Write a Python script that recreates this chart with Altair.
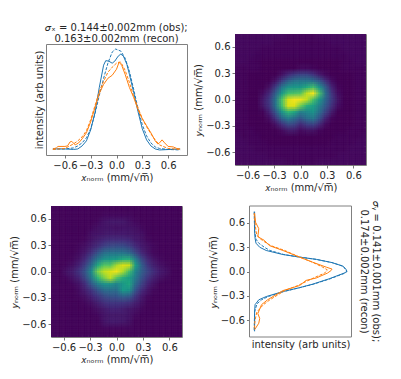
import altair as alt
import pandas as pd

# heat-map intensities, 21 x 21 cells, top row first
recon_rows = [
 [3,3,3,3,3,3,3,3,2,2,2,2,2,3,3,3,3,3,3,3,3],
 [3,3,3,3,3,3,2,2,2,2,2,2,2,2,2,3,3,3,3,3,3],
 [3,3,3,3,2,2,2,2,2,2,2,2,2,2,2,2,2,3,3,3,3],
 [3,3,3,2,2,2,2,2,2,2,2,2,2,2,2,2,2,2,3,3,3],
 [3,3,2,2,1,1,1,1,1,1,1,1,1,1,1,1,1,2,2,3,3],
 [2,2,2,2,1,1,1,1,1,1,3,3,2,1,1,1,1,2,2,2,2],
 [2,2,1,1,1,1,1,5,12,17,20,20,15,8,3,1,1,1,1,2,2],
 [2,2,1,1,1,1,6,18,30,37,38,38,36,27,14,4,1,1,1,2,2],
 [2,2,1,1,1,5,18,38,50,52,52,60,68,50,28,10,2,1,1,2,2],
 [2,2,1,1,4,12,30,52,68,70,72,88,96,70,35,15,4,1,1,2,2],
 [2,2,1,1,8,17,38,70,92,96,95,88,70,52,32,17,6,1,1,2,2],
 [2,2,1,1,7,16,38,68,92,92,76,62,56,42,27,14,4,1,1,2,2],
 [2,2,1,1,2,10,27,50,64,58,42,46,50,36,20,8,1,1,1,2,2],
 [2,2,1,1,1,4,15,32,42,36,27,36,40,26,10,2,1,1,1,2,2],
 [2,2,1,1,1,1,5,14,22,20,12,18,20,12,3,1,1,1,1,2,2],
 [2,2,2,1,1,1,1,3,7,7,3,5,5,2,1,1,1,1,2,2,2],
 [3,2,2,2,1,1,1,1,1,1,1,1,1,1,1,1,2,2,2,2,3],
 [3,3,2,2,2,1,1,1,1,1,1,1,1,1,1,2,2,2,2,3,3],
 [3,3,3,2,2,2,2,2,2,2,2,2,2,2,2,2,2,2,3,3,3],
 [3,3,3,3,3,2,2,2,2,2,2,2,2,2,2,2,3,3,3,3,3],
 [3,3,3,3,3,3,3,3,2,2,2,2,2,3,3,3,3,3,3,3,3],
]
obs_rows = [
 [2,2,2,2,2,2,2,2,2,2,2,2,2,2,2,2,2,2,2,2,2],
 [2,2,2,2,2,2,2,2,3,3,3,3,3,2,2,2,2,2,2,2,2],
 [2,2,2,2,2,2,2,3,6,7,7,7,5,3,2,2,2,2,2,2,2],
 [2,2,2,2,2,2,3,5,6,6,5,6,6,5,3,2,2,2,2,2,2],
 [2,2,2,2,2,2,5,6,7,8,8,8,7,6,5,2,2,2,2,2,2],
 [2,2,2,2,2,3,6,9,12,14,14,14,12,8,6,3,2,2,2,2,2],
 [2,2,2,2,3,5,9,14,20,23,24,24,20,13,8,5,3,2,2,2,2],
 [2,2,2,2,4,8,15,26,36,38,38,38,34,22,12,6,3,2,2,2,2],
 [2,2,2,3,6,13,25,40,50,52,54,60,62,42,22,11,6,3,2,2,2],
 [2,2,3,5,10,20,36,60,72,72,85,92,90,55,30,16,9,5,3,2,2],
 [2,2,6,9,16,27,48,78,88,92,95,85,68,45,30,20,13,8,5,2,2],
 [2,2,3,6,11,22,40,64,78,88,72,62,55,40,26,15,9,5,3,2,2],
 [2,2,2,3,6,14,28,42,50,50,44,52,58,34,20,10,5,2,2,2,2],
 [2,2,2,2,4,9,16,26,34,36,36,52,50,26,13,6,3,2,2,2,2],
 [2,2,2,2,3,5,10,16,22,25,26,30,28,16,8,3,2,2,2,2,2],
 [2,2,2,2,2,3,5,9,14,16,16,16,14,9,5,2,2,2,2,2,2],
 [2,2,2,2,2,2,3,5,8,10,10,9,7,5,3,2,2,2,2,2,2],
 [2,2,2,2,2,2,2,3,6,7,7,7,6,3,2,2,2,2,2,2,2],
 [2,2,2,2,2,2,2,2,6,8,8,7,5,2,2,2,2,2,2,2,2],
 [2,2,2,2,2,2,2,2,3,3,3,3,3,2,2,2,2,2,2,2,2],
 [2,2,2,2,2,2,2,2,2,2,2,2,2,2,2,2,2,2,2,2,2],
]
extent = 0.742

# top-left profile
bs_x = [-.74,-.6,-.5,-.45,-.4,-.35,-.3,-.25,-.2,-.15,-.125,-.09,-.05,-.02,.02,.05,.08,.12,.15,.2,.25,.3,.35,.4,.45,.5,.74]
bs_v = [.01,.01,.005,.01,.04,.09,.2,.37,.62,.84,.885,.88,.86,.88,.93,.95,.93,.85,.75,.57,.38,.21,.1,.04,.01,.0,.01]
bd_x = [-.74,-.6,-.5,-.45,-.4,-.35,-.3,-.25,-.2,-.15,-.1,-.05,-.01,.05,.1,.15,.2,.25,.3,.35,.4,.45,.5,.6,.74]
bd_v = [.01,.01,.02,.04,.07,.12,.21,.36,.54,.71,.86,.97,1.0,.98,.91,.78,.6,.41,.25,.14,.07,.03,.015,.005,.0]
os_x = [-.74,-.7,-.68,-.6,-.57,-.54,-.52,-.48,-.44,-.4,-.35,-.3,-.25,-.2,-.15,-.1,-.05,0,.03,.06,.1,.15,.2,.25,.3,.35,.4,.45,.48,.5,.53,.56,.6,.66,.7,.74]
os_v = [.01,.02,.035,.035,.04,.08,.085,.05,.07,.11,.17,.28,.42,.56,.65,.71,.74,.8,.87,.84,.75,.62,.52,.4,.31,.24,.17,.09,.06,.07,.1,.07,.035,.03,.015,.01]
od_x = [-.74,-.6,-.5,-.45,-.4,-.35,-.3,-.25,-.2,-.15,-.1,-.05,0,.03,.05,.1,.15,.2,.25,.3,.35,.4,.45,.5,.6,.74]
od_v = [.005,.015,.06,.09,.13,.19,.3,.44,.58,.68,.77,.82,.86,.87,.87,.79,.67,.53,.42,.31,.23,.16,.1,.05,.015,.005]

# bottom-right profile
rbs_y = [.74,.5,.41,.35,.3,.26,.21,.178,.15,.11,.065,.02,0,-.02,-.09,-.157,-.2,-.248,-.31,-.35,-.41,-.5,-.74]
rbs_v = [.005,.005,.01,.02,.06,.13,.31,.49,.67,.84,.96,.995,1.0,.97,.81,.63,.49,.31,.13,.05,.01,.005,.005]
rbd_y = [.74,.5,.4,.35,.3,.26,.21,.178,.15,.11,.065,.02,0,-.02,-.09,-.157,-.2,-.248,-.31,-.35,-.4,-.5,-.74]
rbd_v = [.0,.005,.02,.05,.11,.17,.32,.49,.67,.84,.96,.99,1.0,.98,.82,.64,.49,.32,.15,.08,.03,.005,.0]
ros_y = [.72,.61,.53,.43,.385,.32,.26,.178,.115,.053,.03,.012,-.02,-.08,-.11,-.174,-.236,-.35,-.41,-.52,-.58,-.64,-.72]
ros_v = [.005,.015,.05,.04,.11,.165,.31,.49,.63,.78,.84,.83,.79,.67,.56,.49,.31,.145,.08,.04,.06,.05,.005]
rod_y = [.72,.6,.5,.45,.39,.32,.26,.178,.115,.053,.02,-.02,-.08,-.13,-.174,-.236,-.35,-.41,-.5,-.6,-.72]
rod_v = [.0,.01,.02,.03,.08,.18,.33,.49,.63,.74,.79,.76,.64,.55,.47,.33,.17,.1,.03,.01,.0]

ticks = [-0.6, -0.3, 0.0, 0.3, 0.6]
BLUE, ORANGE = "#1f77b4", "#ff7f0e"
TXT = "#262626"
FRAME = "#808080"
XT = "𝑥ₙₒᵣₘ (mm/√m̅)"
YT = "𝑦ₙₒᵣₘ (mm/√m̅)"
TFONT = 10
FONT = "DejaVu Sans"
TITLE_Y = ["𝜎ᵧ = 0.141±0.001mm (obs);", "0.174±0.002mm (recon)"]
INSET = 14.5  # bottom-right axes sit centred in a 131 px wide cell

def axis(title, vals=ticks, **kw):
    return alt.Axis(values=vals, title=title, format=".1f", grid=False, domain=False,
                    tickColor="#555555", tickSize=3, tickWidth=0.8,
                    labelColor=TXT, titleColor=TXT, labelFontSize=TFONT, titleFontSize=TFONT,
                    labelFont=FONT, titleFont=FONT, titleFontWeight="normal",
                    labelPadding=2, titlePadding=2, labelOverlap=False, **kw)

def heat(rows):
    step = 2 * extent / len(rows)
    sc = alt.Scale(scheme="viridis", domain=[0, 97])
    layers = []
    # the same cells drawn at small sub-cell shifts and averaged by opacity
    shifts = [(0, 0)] + [(a, b) for a in (-1/3, 0, 1/3) for b in (-1/3, 0, 1/3) if (a, b) != (0, 0)]
    for k, (dx, dy) in enumerate(shifts):
        recs = []
        for r, row in enumerate(rows):
            for c, v in enumerate(row):
                x0 = -extent + (c + dx) * step
                y0 = extent - (r + dy) * step
                recs.append(dict(x=x0, x2=x0 + step * 1.04, y=y0, y2=y0 - step * 1.04, v=v))
        layers.append(alt.Chart(pd.DataFrame(recs)).mark_rect(opacity=1 / (k + 1), clip=True).encode(
            x=alt.X("x:Q", scale=alt.Scale(domain=[-extent, extent], nice=False), axis=axis(XT)),
            x2="x2:Q",
            y=alt.Y("y:Q", scale=alt.Scale(domain=[-extent, extent], nice=False), axis=axis(YT)),
            y2="y2:Q",
            color=alt.Color("v:Q", scale=sc, legend=None),
        ))
    return alt.layer(*layers).properties(width=131, height=131)

def hprof(xs, vs, color, dash):
    kw = dict(strokeDash=[3, 1.5]) if dash else {}
    return alt.Chart(pd.DataFrame(dict(x=xs, v=vs))).mark_line(color=color, strokeWidth=1, **kw).encode(
        x=alt.X("x:Q", scale=alt.Scale(domain=[-0.82, 0.82], nice=False), axis=axis(XT)),
        y=alt.Y("v:Q", scale=alt.Scale(domain=[-0.05, 1.05], nice=False),
                axis=axis("intensity (arb units)", vals=[])),
        order="x:Q",
    )

def vprof(ys, vs, color, dash):
    kw = dict(strokeDash=[3, 1.5]) if dash else {}
    return alt.Chart(pd.DataFrame(dict(y=ys, v=vs))).mark_line(color=color, strokeWidth=1, orient="horizontal", **kw).encode(
        y=alt.Y("y:Q", scale=alt.Scale(domain=[-0.81, 0.81], nice=False), axis=axis(YT, offset=-INSET)),
        x=alt.X("v:Q", scale=alt.Scale(domain=[-0.05, 1.05], nice=False, range=[INSET, INSET + 102]),
                axis=axis("intensity (arb units)", vals=[])),
        order=alt.Order("y:Q", sort="descending"),
    )

def side_title(text, xpos):
    return alt.Chart(pd.DataFrame(dict(t=[text]))).mark_text(
        angle=90, fontSize=TFONT, font=FONT, color=TXT, align="center", baseline="middle"
    ).encode(text="t:N", x=alt.value(xpos), y=alt.value(65.5))

frame = alt.Chart(pd.DataFrame(dict(a=[0]))).mark_rect(fillOpacity=0, stroke=FRAME, strokeWidth=1).encode(
    x=alt.value(INSET), x2=alt.value(INSET + 102), y=alt.value(0), y2=alt.value(131))

tl = alt.layer(hprof(bs_x, bs_v, BLUE, False), hprof(bd_x, bd_v, BLUE, True),
               hprof(os_x, os_v, ORANGE, False), hprof(od_x, od_v, ORANGE, True)
).properties(width=141, height=111,
    title=alt.TitleParams(["𝜎ₓ = 0.144±0.002mm (obs);", "0.163±0.002mm (recon)"],
                          fontSize=TFONT, fontWeight="normal", color=TXT, font=FONT,
                          offset=0.5, lineHeight=11))
br = alt.layer(vprof(rbs_y, rbs_v, BLUE, False), vprof(rbd_y, rbd_v, BLUE, True),
               vprof(ros_y, ros_v, ORANGE, False), vprof(rod_y, rod_v, ORANGE, True),
               frame,
               side_title(TITLE_Y[0], INSET + 126.5), side_title(TITLE_Y[1], INSET + 114.5)
).properties(width=131, height=131, view=alt.ViewBackground(stroke="transparent"))

chart = alt.concat(
    tl, heat(recon_rows), heat(obs_rows), br, columns=2, spacing=alt.RowColnumber(row=41, column=48)
).properties(bounds="flush", center=True, background="white",
             padding=dict(left=1, top=14, right=0, bottom=0)
).configure_view(stroke=FRAME, strokeWidth=1)

chart.save("out.html", embed_options={"renderer": "svg", "actions": False})
